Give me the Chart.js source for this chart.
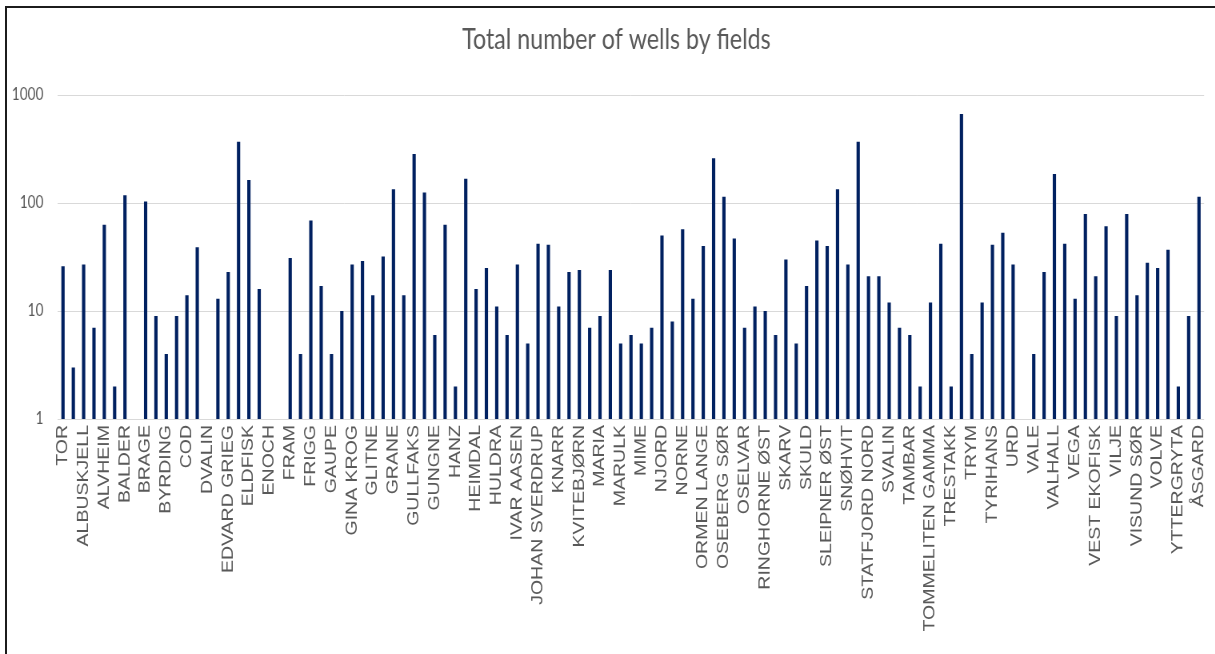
<!DOCTYPE html>
<html>
<head>
<meta charset="utf-8">
<title>Total number of wells by fields</title>
<script src="https://cdn.jsdelivr.net/npm/chart.js@4.4.1/dist/chart.umd.min.js"></script>
<style>
  html, body { margin: 0; padding: 0; background: #ffffff; overflow: hidden; width: 1215px; height: 654px; }
  /* chart is laid out wide, then narrowed horizontally */
  #wrap { position: absolute; left: 0; top: 0; width: 1541px; height: 654px; transform: scaleX(0.8); transform-origin: 0 0; }
  #frame { position: absolute; left: 5px; top: 6px; width: 1220px; height: 700px;
           border-left: 2px solid #1c1c1c; border-top: 2px solid #1c1c1c; pointer-events: none; }
</style>
</head>
<body>
<div id="wrap"><canvas id="chart" width="1541" height="654"></canvas></div>
<div id="frame"></div>
<script>
// Fields in chart order
const fields = [
  'TOR', 'AASTA HANSTEEN', 'ALBUSKJELL', 'ALVE', 'ALVHEIM', 'ATLA', 'BALDER', 'BLANE',
  'BRAGE', 'BRYNHILD', 'BYRDING', 'BØYLA', 'COD', 'DRAUGEN', 'DVALIN', 'EDDA',
  'EDVARD GRIEG', 'EKOFISK', 'ELDFISK', 'EMBLA', 'ENOCH', 'FLYNDRE', 'FRAM', 'FRAM H-NORD',
  'FRIGG', 'FRØY', 'GAUPE', 'GIMLE', 'GINA KROG', 'GJØA', 'GLITNE', 'GOLIAT',
  'GRANE', 'GUDRUN', 'GULLFAKS', 'GULLFAKS SØR', 'GUNGNE', 'GYDA', 'HANZ', 'HEIDRUN',
  'HEIMDAL', 'HOD', 'HULDRA', 'HYME', 'IVAR AASEN', 'JETTE', 'JOHAN SVERDRUP', 'JOTUN',
  'KNARR', 'KRISTIN', 'KVITEBJØRN', 'LILLE-FRIGG', 'MARIA', 'MARTIN LINGE', 'MARULK', 'MIKKEL',
  'MIME', 'MORVIN', 'NJORD', 'NORDØST FRIGG', 'NORNE', 'ODIN', 'ORMEN LANGE', 'OSEBERG',
  'OSEBERG SØR', 'OSEBERG ØST', 'OSELVAR', 'REV', 'RINGHORNE ØST', 'SIGYN', 'SKARV', 'SKIRNE',
  'SKULD', 'SLEIPNER VEST', 'SLEIPNER ØST', 'SNORRE', 'SNØHVIT', 'STATFJORD', 'STATFJORD NORD', 'STATFJORD ØST',
  'SVALIN', 'SYGNA', 'TAMBAR', 'TAMBAR ØST', 'TOMMELITEN GAMMA', 'TORDIS', 'TRESTAKK', 'TROLL',
  'TRYM', 'TUNE', 'TYRIHANS', 'ULA', 'URD', 'UTGARD', 'VALE', 'VALEMON',
  'VALHALL', 'VARG', 'VEGA', 'VESLEFRIKK', 'VEST EKOFISK', 'VIGDIS', 'VILJE', 'VISUND',
  'VISUND SØR', 'VOLUND', 'VOLVE', 'YME', 'YTTERGRYTA', 'ÆRFUGL', 'ÅSGARD'
];

// Total number of wells per field
const wells = [
  26, 3, 27, 7, 63, 2, 118, 1,
  103, 9, 4, 9, 14, 39, 1, 13,
  23, 370, 163, 16, 1, 1, 31, 4,
  69, 17, 4, 10, 27, 29, 14, 32,
  134, 14, 284, 125, 6, 63, 2, 168,
  16, 25, 11, 6, 27, 5, 42, 41,
  11, 23, 24, 7, 9, 24, 5, 6,
  5, 7, 50, 8, 57, 13, 40, 259,
  114, 47, 7, 11, 10, 6, 30, 5,
  17, 45, 40, 134, 27, 370, 21, 21,
  12, 7, 6, 2, 12, 42, 2, 667,
  4, 12, 41, 53, 27, 1, 4, 23,
  186, 42, 13, 79, 21, 61, 9, 79,
  14, 28, 25, 37, 2, 9, 114
];

// Logarithmic axis ticks
const yTicks = [1, 10, 100, 1000];

const chartTitle = 'Total number of wells by fields';

new Chart(document.getElementById('chart'), {
  type: 'bar',
  data: {
    labels: fields,
    datasets: [{
      label: 'Wells',
      data: wells,
      backgroundColor: '#002060',
      borderWidth: 0,
      barPercentage: 0.32,
      categoryPercentage: 1.0
    }]
  },
  options: {
    responsive: false,
    animation: false,
    devicePixelRatio: 1,
    layout: { padding: 0 },
    plugins: {
      legend: { display: false },
      tooltip: { enabled: true },
      title: {
        display: true,
        text: chartTitle,
        color: '#595959',
        font: { family: 'Lato', size: 29, weight: 'normal', lineHeight: 1.2 },
        padding: { top: 22.1, bottom: 38.1 }
      }
    },
    scales: {
      x: {
        grid: { display: false, drawTicks: false },
        border: { display: false },
        ticks: {
          autoSkip: false,
          maxRotation: 90,
          minRotation: 90,
          padding: 6,
          color: '#595959',
          font: { family: 'Liberation Sans', size: 19.5 },
          callback: function (value, index) {
            return index % 2 === 0 ? this.getLabelForValue(value) : '';
          }
        },
        afterFit: function (scale) {
          scale.height = 235;
          scale.paddingLeft = 0;
          scale.paddingRight = 35.8;
        }
      },
      y: {
        type: 'logarithmic',
        min: 1,
        max: 1000,
        grid: { color: '#d9d9d9', lineWidth: 1, drawTicks: false },
        border: { display: false },
        ticks: {
          padding: 18,
          color: '#595959',
          font: { family: 'Lato', size: 17 },
          callback: function (value) { return String(value); }
        },
        afterBuildTicks: function (scale) {
          scale.ticks = yTicks.map(function (v) { return { value: v }; });
        },
        afterFit: function (scale) {
          scale.width = 72.3;
        }
      }
    }
  }
});
</script>
</body>
</html>
